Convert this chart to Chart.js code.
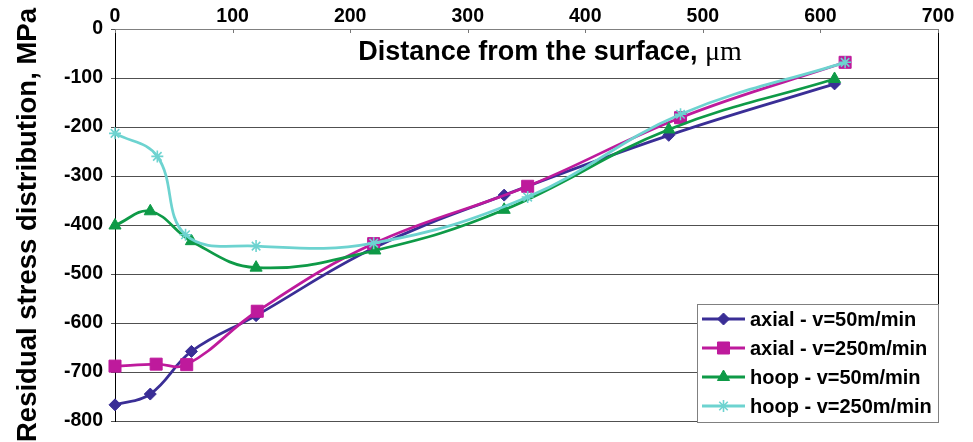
<!DOCTYPE html>
<html>
<head>
<meta charset="utf-8">
<script src="https://cdn.jsdelivr.net/npm/chart.js@4"></script>
<style>
  body { margin: 0; background: #fff; }
</style>
</head>
<body>
<canvas id="stress-chart" width="973" height="442"></canvas>
<script>
// depth (um) and residual stress (MPa)
const xAxial50 = [0, 30, 65, 120, 220, 331, 471, 612];
const yAxial50 = [-767, -745, -658, -585, -447, -339, -217, -112];
const xAxial250 = [0, 35, 61, 121, 220, 351, 481, 621];
const yAxial250 = [-688, -684, -685, -576, -438, -321, -181, -68];
const xHoop50 = [0, 30, 65, 120, 221, 331, 471, 612];
const yHoop50 = [-401, -372, -433, -487, -452, -369, -205, -102];
const xHoop250 = [0, 36, 60, 120, 220, 351, 481, 621];
const yHoop250 = [-213, -260, -420, -443, -437, -343, -174, -68];

const seriesLabels = ["axial - v=50m/min", "axial - v=250m/min", "hoop - v=50m/min", "hoop - v=250m/min"];
const xTicks = [0, 100, 200, 300, 400, 500, 600, 700];

function pts(xs, ys) {
    return xs.map((x, i) => ({ x: x, y: ys[i] }));
}

function series(i, xs, ys, color, style, radius, order) {
    return {
        label: seriesLabels[i],
        data: pts(xs, ys),
        borderColor: color,
        backgroundColor: color,
        borderWidth: 2.75,
        pointStyle: style,
        pointRadius: radius,
        pointBorderWidth: style === 'star' ? 1.6 : 1,
        pointBorderColor: color,
        pointBackgroundColor: color,
        tension: 0.4,
        order: order
    };
}

const extras = {
    id: 'extras',
    afterDraw(chart) {
        const ctx = chart.ctx;
        const a = chart.chartArea;
        const xs = chart.scales.x;
        ctx.save();
        // right border
        ctx.strokeStyle = '#000';
        ctx.lineWidth = 1;
        ctx.beginPath();
        ctx.moveTo(a.right + 0.5, a.top);
        ctx.lineTo(a.right + 0.5, a.bottom);
        ctx.stroke();
        // inner tick marks on top axis
        ctx.strokeStyle = '#777';
        xTicks.forEach(v => {
            const px = Math.round(xs.getPixelForValue(v)) + 0.5;
            ctx.beginPath();
            ctx.moveTo(px, a.top);
            ctx.lineTo(px, a.top + 4);
            ctx.stroke();
        });

        // axis title inside the plot
        const t1 = 'Distance from the surface, ';
        const t2 = '\u03bcm';
        const f1 = 'bold 27px "Liberation Sans", Arial, sans-serif';
        const f2 = '28px "Liberation Serif", "Times New Roman", serif';
        ctx.font = f1;
        const w1 = ctx.measureText(t1).width;
        ctx.font = f2;
        const w2 = ctx.measureText(t2).width;
        let tx = 550 - (w1 + w2) / 2;
        ctx.fillStyle = '#000';
        ctx.textBaseline = 'alphabetic';
        ctx.textAlign = 'left';
        ctx.font = f1;
        ctx.fillText(t1, tx, 60);
        ctx.font = f2;
        ctx.fillText(t2, tx + w1, 60);

        // legend box
        const lx = 697, ly = 304, lw = 241, lh = 118;
        ctx.fillStyle = '#fff';
        ctx.fillRect(lx, ly, lw, lh);
        ctx.strokeStyle = '#808080';
        ctx.strokeRect(lx + 0.5, ly + 0.5, lw, lh);
        const rows = [319, 348, 377, 406];
        const byLabel = {};
        chart.data.datasets.forEach(d => { byLabel[d.label] = d; });
        seriesLabels.forEach((lab, i) => {
            const d = byLabel[lab];
            const y = rows[i];
            ctx.strokeStyle = d.borderColor;
            ctx.lineWidth = 3;
            ctx.beginPath();
            ctx.moveTo(702, y);
            ctx.lineTo(745, y);
            ctx.stroke();
            ctx.fillStyle = d.pointBackgroundColor;
            ctx.lineWidth = d.pointBorderWidth;
            Chart.helpers.drawPoint(ctx, { pointStyle: d.pointStyle, radius: d.pointRadius, borderWidth: d.pointBorderWidth, rotation: 0 }, 723.5, y);
            ctx.fillStyle = '#000';
            ctx.font = 'bold 20px "Liberation Sans", Arial, sans-serif';
            ctx.textBaseline = 'middle';
            ctx.fillText(lab, 750, y + 1);
        });
        ctx.restore();
    }
};

new Chart(document.getElementById("stress-chart"), {
    type: 'line',
    data: {
        datasets: [
            series(0, xAxial50, yAxial50, '#3A2E96', 'rectRot', 6, 4),
            series(1, xAxial250, yAxial250, '#BE1A9C', 'rect', 8.5, 3),
            series(2, xHoop50, yHoop50, '#0E9A47', 'triangle', 7, 2),
            series(3, xHoop250, yHoop250, '#6DD3D0', 'star', 6, 1)
        ]
    },
    options: {
        responsive: false,
        animation: false,
        clip: false,
        layout: { padding: { left: 0, right: 35, top: 0, bottom: 21 } },
        plugins: {
            legend: { display: false },
            tooltip: { enabled: false }
        },
        scales: {
            x: {
                type: 'linear',
                position: 'top',
                min: 0,
                max: 700,
                afterBuildTicks: s => { s.ticks = xTicks.map(v => ({ value: v })); },
                afterFit: s => { s.height = 29; },
                grid: { display: true, drawOnChartArea: false, drawTicks: false },
                border: { display: true, color: '#808080', width: 1 },
                ticks: {
                    padding: 1,
                    color: '#000',
                    font: { family: '"Liberation Sans", Arial, sans-serif', size: 19.5, weight: 'bold' }
                }
            },
            y: {
                type: 'linear',
                min: -800,
                max: 0,
                afterFit: s => { s.width = 115; },
                ticks: {
                    stepSize: 100,
                    padding: 8,
                    color: '#000',
                    font: { family: '"Liberation Sans", Arial, sans-serif', size: 19.5, weight: 'bold' }
                },
                grid: { color: '#505050', lineWidth: 1, tickLength: 4 },
                border: { display: true, color: '#000', width: 1 },
                title: {
                    display: true,
                    text: 'Residual stress distribution, MPa',
                    color: '#000',
                    padding: { top: 12, bottom: 0 },
                    font: { family: '"Liberation Sans", Arial, sans-serif', size: 27.5, weight: 'bold' }
                }
            }
        }
    },
    plugins: [extras]
});
</script>
</body>
</html>
